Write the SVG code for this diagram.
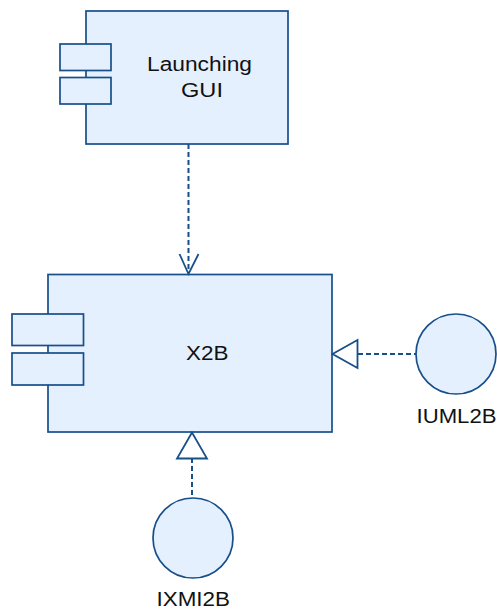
<svg xmlns="http://www.w3.org/2000/svg" width="497" height="611" viewBox="0 0 497 611">
<style>
.shape{fill:#e4f0fd;stroke:#174f8b;stroke-width:1.7}
.conn{fill:none;stroke:#174f8b;stroke-width:2;stroke-dasharray:5,3}
.head{fill:#ffffff;stroke:#174f8b;stroke-width:1.8}
.open{fill:none;stroke:#174f8b;stroke-width:1.8}
text{font-family:"Liberation Sans",Arial,sans-serif;font-size:20px;fill:#111}
</style>
<rect width="497" height="611" fill="#ffffff"/>
<g id="launching-gui">
<rect class="shape" x="86" y="11" width="202" height="133"/>
<rect class="shape" x="60" y="44" width="51" height="26.5"/>
<rect class="shape" x="60" y="77.5" width="51" height="26.5"/>
<text x="147" y="71" textLength="105" lengthAdjust="spacingAndGlyphs">Launching</text>
<text x="181" y="96.5" textLength="42" lengthAdjust="spacingAndGlyphs">GUI</text>
</g>
<g id="x2b">
<rect class="shape" x="48" y="274.5" width="284" height="157.5"/>
<rect class="shape" x="12" y="314" width="71.5" height="31.5"/>
<rect class="shape" x="12" y="353" width="71.5" height="32"/>
<text x="186" y="359.5" textLength="42.5" lengthAdjust="spacingAndGlyphs">X2B</text>
</g>
<g id="iuml2b">
<circle class="shape" cx="456" cy="354" r="40"/>
<text x="416.5" y="422.5" textLength="80" lengthAdjust="spacingAndGlyphs">IUML2B</text>
</g>
<g id="ixmi2b">
<circle class="shape" cx="193" cy="538" r="40"/>
<text x="156.5" y="605.5" textLength="73.5" lengthAdjust="spacingAndGlyphs">IXMI2B</text>
</g>
<g id="connectors">
<line class="conn" x1="188.5" y1="144" x2="188.5" y2="273"/>
<polyline class="open" points="179.5,254 188.5,274 198.5,254"/>
<line class="conn" x1="358" y1="354" x2="416" y2="354"/>
<polygon class="head" points="332.5,354 357.5,340 357.5,368"/>
<line class="conn" x1="192" y1="458" x2="192" y2="498"/>
<polygon class="head" points="192,432.5 177,458.5 207,458.5"/>
</g>
</svg>
